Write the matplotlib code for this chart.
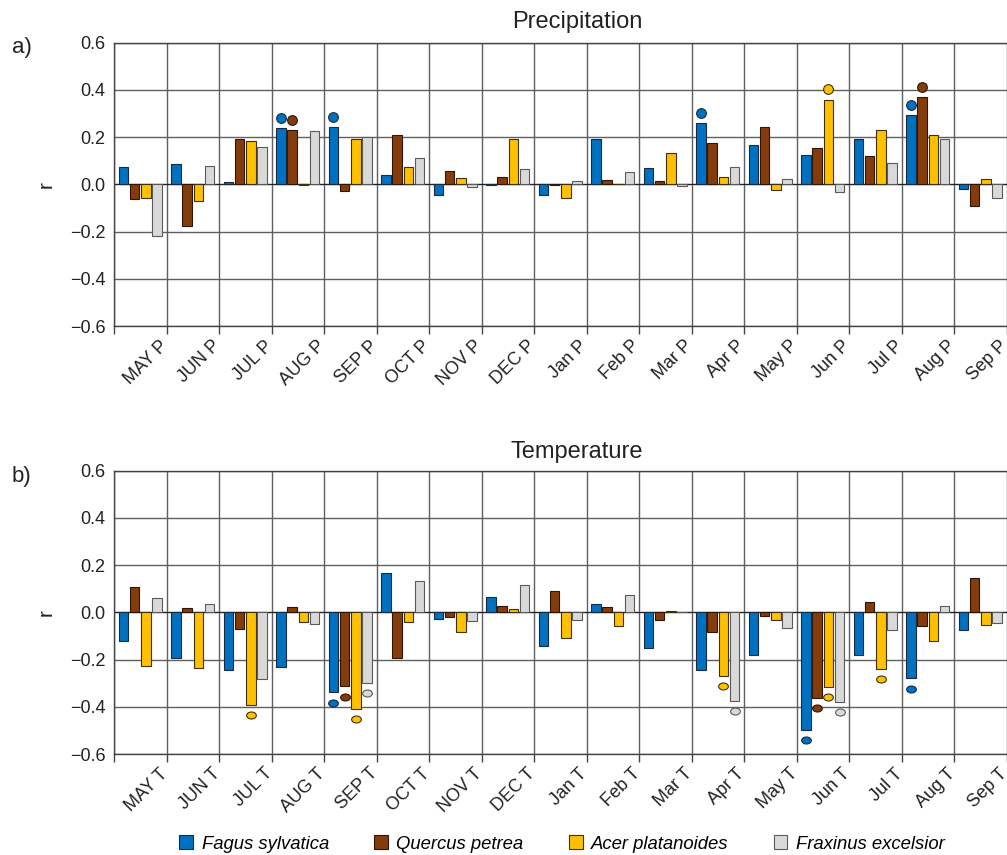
import matplotlib.pyplot as plt
from matplotlib.patches import Patch
from matplotlib.path import Path
from matplotlib.transforms import Affine2D

plt.rcParams['font.family'] = ['Liberation Sans', 'DejaVu Sans']

species = ['Fagus sylvatica', 'Quercus petrea', 'Acer platanoides', 'Fraxinus excelsior']
colors = ['#0070C0', '#843C0C', '#FFC000', '#D9D9D9']
edges = ['#1A2A40', '#2E1505', '#3D3210', '#5A5A5A']

months_p = ['MAY P', 'JUN P', 'JUL P', 'AUG P', 'SEP P', 'OCT P', 'NOV P', 'DEC P',
            'Jan P', 'Feb P', 'Mar P', 'Apr P', 'May P', 'Jun P', 'Jul P', 'Aug P', 'Sep P']
months_t = ['MAY T', 'JUN T', 'JUL T', 'AUG T', 'SEP T', 'OCT T', 'NOV T', 'DEC T',
            'Jan T', 'Feb T', 'Mar T', 'Apr T', 'May T', 'Jun T', 'Jul T', 'Aug T', 'Sep T']

# correlation coefficients with precipitation
precip_fagus = [0.072, 0.086, 0.008, 0.237, 0.241, 0.038, -0.044, -0.001, -0.044,
                0.194, 0.070, 0.259, 0.165, 0.123, 0.190, 0.294, -0.021]
precip_quercus = [-0.063, -0.175, 0.190, 0.230, -0.028, 0.210, 0.056, 0.031, -0.004,
                  0.020, 0.015, 0.177, 0.241, 0.155, 0.118, 0.368, -0.092]
precip_acer = [-0.056, -0.070, 0.183, -0.004, 0.190, 0.073, 0.025, 0.194, -0.056,
               0.003, 0.134, 0.031, -0.025, 0.359, 0.232, 0.208, 0.023]
precip_fraxinus = [-0.220, 0.076, 0.160, 0.228, 0.199, 0.110, -0.011, 0.066, 0.014,
                   0.052, -0.008, 0.075, 0.024, -0.031, 0.092, 0.194, -0.059]

# correlation coefficients with temperature
temp_fagus = [-0.120, -0.193, -0.246, -0.230, -0.339, 0.168, -0.030, 0.066, -0.144,
              0.034, -0.152, -0.246, -0.182, -0.499, -0.179, -0.280, -0.075]
temp_quercus = [0.108, 0.020, -0.070, 0.021, -0.314, -0.192, -0.021, 0.027, 0.089,
                0.023, -0.034, -0.082, -0.017, -0.361, 0.042, -0.059, 0.144]
temp_acer = [-0.227, -0.234, -0.392, -0.042, -0.410, -0.042, -0.085, 0.014, -0.107,
             -0.059, 0.007, -0.268, -0.031, -0.317, -0.241, -0.123, -0.055]
temp_fraxinus = [0.059, 0.034, -0.283, -0.051, -0.299, 0.134, -0.037, 0.117, -0.034,
                 0.072, 0.003, -0.376, -0.066, -0.380, -0.076, 0.027, -0.044]

# indices of months with significant correlations (per species)
sig_precip = [[3, 4, 11, 15], [3, 15], [13], []]
sig_temp = [[4, 13, 15], [4, 13], [2, 4, 11, 13, 14], [4, 11, 13]]

offsets = [-0.32, -0.107, 0.107, 0.32]
bar_w = 0.18
dot_gap = 0.043


def squashed_circle(ratio):
    circ = Path.unit_circle()
    return circ.transformed(Affine2D().scale(1.0, ratio))


def draw_panel(ax, series, sig, labels, dot_marker):
    n = len(labels)
    for k, vals in enumerate(series):
        xs = [i + 0.5 + offsets[k] for i in range(n)]
        ax.bar(xs, vals, width=bar_w, color=colors[k], edgecolor=edges[k],
               linewidth=0.8, zorder=3)
        sx = [xs[i] for i in sig[k]]
        sy = [vals[i] + (dot_gap if vals[i] > 0 else -dot_gap) for i in sig[k]]
        ax.plot(sx, sy, linestyle='none', marker=dot_marker, markersize=7,
                markerfacecolor=colors[k], markeredgecolor=edges[k],
                markeredgewidth=0.8, zorder=4, clip_on=False)

    ax.set_xlim(0, n)
    ax.set_ylim(-0.6, 0.6)
    ax.set_yticks([-0.6, -0.4, -0.2, 0.0, 0.2, 0.4, 0.6])
    ax.set_yticklabels(['\u22120.6', '\u22120.4', '\u22120.2', '0.0', '0.2', '0.4', '0.6'])
    ax.tick_params(axis='y', length=0, pad=6, labelsize=13, labelcolor='#222222')

    # category boundaries carry the grid and the tick marks, labels sit near the right edge
    ax.set_xticks(range(n + 1))
    ax.set_xticklabels([])
    ax.set_xticks([i + 1.08 for i in range(n)], minor=True)
    ax.set_xticklabels(labels, minor=True, rotation=45, ha='right', fontsize=13,
                       color='#222222')
    ax.tick_params(axis='x', which='major', direction='out', length=6,
                   color='#444444', width=1.0)
    ax.tick_params(axis='x', which='minor', length=0, pad=8)

    ax.grid(True, which='major', color='#5f5f5f', linewidth=1.0, zorder=0)
    ax.set_axisbelow(True)
    ax.axhline(0, color='#222222', linewidth=0.8, zorder=2)
    for side in ['left', 'bottom', 'top']:
        ax.spines[side].set_color('#444444')
        ax.spines[side].set_linewidth(1.0)
    ax.spines['right'].set_visible(False)

    ax.set_ylabel('r', fontsize=15, va='center', color='#222222')
    ax.yaxis.set_label_coords(-0.0758, 0.5)


fig = plt.figure(figsize=(10.07, 8.55), dpi=100)
W, H = 1007, 855
ax_p = fig.add_axes([114 / W, 1 - 326 / H, 896.75 / W, 283.3 / H])
ax_t = fig.add_axes([114 / W, 1 - 754 / H, 896.75 / W, 283.3 / H])

draw_panel(ax_p, [precip_fagus, precip_quercus, precip_acer, precip_fraxinus],
           sig_precip, months_p, 'o')
draw_panel(ax_t, [temp_fagus, temp_quercus, temp_acer, temp_fraxinus],
           sig_temp, months_t, squashed_circle(0.72))

fig.text(577 / W, 1 - 22 / H, 'Precipitation', ha='center', va='center', fontsize=17,
         color='#222222')
fig.text(577 / W, 1 - 452 / H, 'Temperature', ha='center', va='center', fontsize=17,
         color='#222222')
fig.text(12 / W, 1 - 47 / H, 'a)', ha='left', va='center', fontsize=16, color='#222222')
fig.text(12 / W, 1 - 476 / H, 'b)', ha='left', va='center', fontsize=16, color='#222222')

handles = [Patch(facecolor=c, edgecolor=e, linewidth=0.8) for c, e in zip(colors, edges)]
fig.legend(handles, species, loc='center', bbox_to_anchor=(562 / W, 1 - 844 / H),
           ncol=4, frameon=False, prop={'style': 'italic', 'size': 13.3},
           handlelength=0.75, handleheight=0.75, handletextpad=0.45, columnspacing=2.45)

fig.savefig('out.png', dpi=100)
